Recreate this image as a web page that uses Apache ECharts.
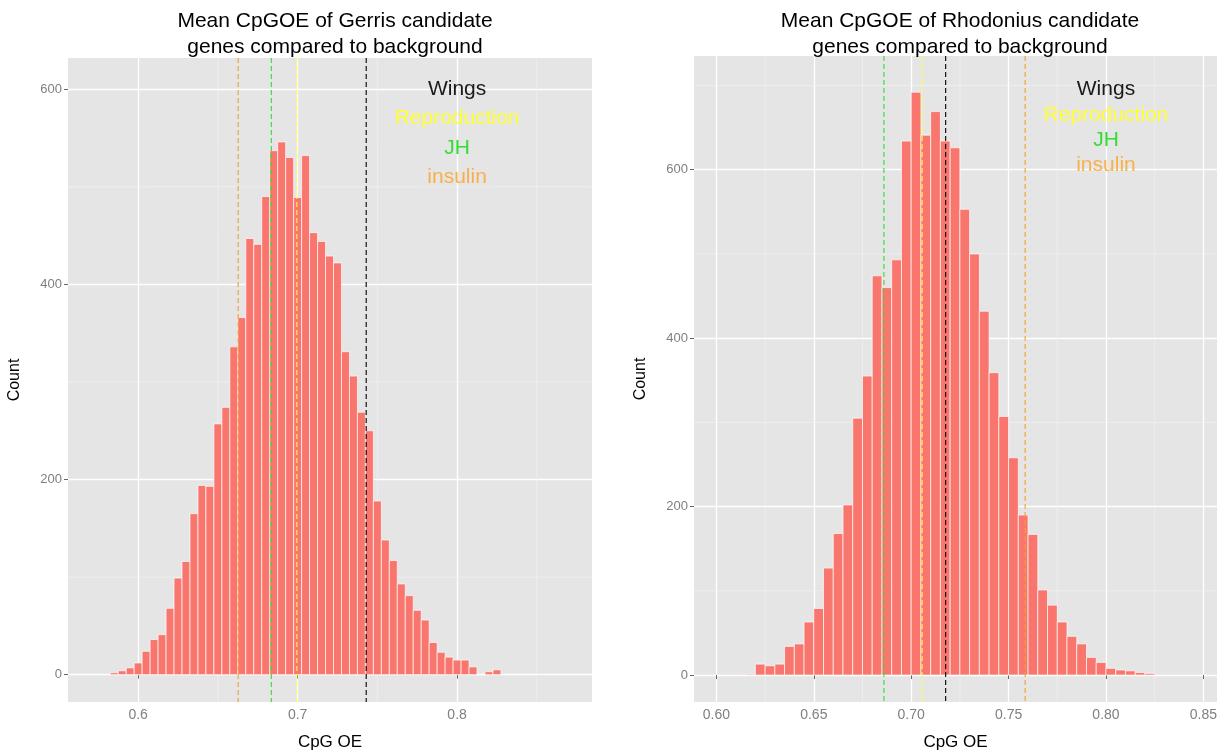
<!DOCTYPE html>
<html><head><meta charset="utf-8">
<script src="https://cdn.jsdelivr.net/npm/echarts@6/dist/echarts.min.js"></script>
<style>html,body{margin:0;padding:0;background:#fff}#c{width:1228px;height:756px}</style>
</head><body><div id="c"></div>
<script>
// ---------------- data ----------------
const binWidth = 0.005;

const gerrisBins = [0.585,0.59,0.595,0.60,0.605,0.61,0.615,0.62,0.625,0.63,0.635,0.64,0.645,0.65,0.655,0.66,0.665,0.67,0.675,0.68,0.685,0.69,0.695,0.70,0.705,0.71,0.715,0.72,0.725,0.73,0.735,0.74,0.745,0.75,0.755,0.76,0.765,0.77,0.775,0.78,0.785,0.79,0.795,0.80,0.805,0.81,0.815,0.82,0.825];
const gerrisCounts = [2,4,7,12,24,36,41,68,99,116,165,194,193,257,274,336,366,447,441,490,537,546,530,489,532,453,444,429,422,331,306,269,250,178,138,117,93,81,66,56,33,23,18,15,15,8,0,3,5];

const rhodBins = [0.6175,0.6225,0.6275,0.6325,0.6375,0.6425,0.6475,0.6525,0.6575,0.6625,0.6675,0.6725,0.6775,0.6825,0.6875,0.6925,0.6975,0.7025,0.7075,0.7125,0.7175,0.7225,0.7275,0.7325,0.7375,0.7425,0.7475,0.7525,0.7575,0.7625,0.7675,0.7725,0.7775,0.7825,0.7875,0.7925,0.7975,0.8025,0.8075,0.8125,0.8175,0.8225];
const rhodCounts = [1,13,11,13,34,37,63,79,127,168,202,305,355,474,460,493,634,692,641,669,634,626,553,500,432,359,307,258,190,167,101,83,63,46,37,21,15,8,6,5,3,2];

const groupNames = ['Wings','Reproduction','JH','insulin'];
const groupColors = ['#1a1a1a','#FFFF33','#33DD33','#F7B04A'];
const lineColors = ['#000000','#FFFF44','#33DD33','#F0A030'];
const gerrisMeans = [0.743,0.6995,0.6835,0.6627];
const rhodMeans = [0.7177,0.7056,0.686,0.7585];
const gerrisLabelX = [0.8,0.8,0.8,0.8];
const gerrisLabelY = [600,570,540,510];
const rhodLabelX = [0.8,0.8,0.8,0.8];
const rhodLabelY = [695,665,635,605];

const gerrisXTicks = [0.6,0.7,0.8];
const gerrisXTickLabels = ['0.6','0.7','0.8'];
const gerrisXMinor = [0.65,0.75,0.85];
const rhodXTicks = [0.60,0.65,0.70,0.75,0.80,0.85];
const rhodXTickLabels = ['0.60','0.65','0.70','0.75','0.80','0.85'];
const rhodXMinor = [0.625,0.675,0.725,0.775,0.825];
const yTicks = [0,200,400,600];
const yTickLabels = ['0','200','400','600'];
const yMinor = [100,300,500,700];

const titles = ['Mean CpGOE of Gerris candidate\ngenes compared to background',
                'Mean CpGOE of Rhodonius candidate\ngenes compared to background'];

// ---------------- chart ----------------
const chart = echarts.init(document.getElementById('c'), null, {renderer:'canvas'});

function histItem(params, api) {
  const c = api.value(0), n = api.value(1);
  const p0 = api.coord([c - binWidth/2, 0]);
  const p1 = api.coord([c + binWidth/2, n]);
  return {type:'rect', shape:{x:p0[0], y:p1[1], width:p1[0]-p0[0], height:p0[1]-p1[1]},
          style:{fill:'#F8766D', stroke:'rgba(255,255,255,0.85)', lineWidth:0.8}};
}
function vlineItem(color, dashed, width) {
  return function(params, api) {
    const cs = params.coordSys;
    const p = api.coord([api.value(0), 0]);
    return {type:'line', shape:{x1:p[0], y1:cs.y, x2:p[0], y2:cs.y+cs.height},
      style:{stroke: color, lineWidth: width, lineDash: dashed ? [5,3] : null}};
  };
}
function hlineItem(params, api) {
  const cs = params.coordSys;
  const p = api.coord([0, api.value(0)]);
  return {type:'line', shape:{x1:cs.x, y1:p[1], x2:cs.x+cs.width, y2:p[1]},
    style:{stroke:'#F2F2F2', lineWidth:0.7}};
}
function vminorItem(params, api) {
  const cs = params.coordSys;
  const p = api.coord([api.value(0), 0]);
  return {type:'line', shape:{x1:p[0], y1:cs.y, x2:p[0], y2:cs.y+cs.height},
    style:{stroke:'#F2F2F2', lineWidth:0.7}};
}

function xAxisCfg(idx, min, max, ticks, labels) {
  return {gridIndex: idx, type:'value', min:min, max:max,
    axisLine:{show:false},
    axisTick:{show:true, length:4, customValues:ticks, lineStyle:{color:'#666', width:1}},
    axisLabel:{customValues:ticks, color:'#7F7F7F', fontSize:14, margin:6,
      formatter: v => { const i = ticks.findIndex(t => Math.abs(t-v) < 1e-9); return i >= 0 ? labels[i] : ''; }},
    splitLine:{show:true, lineStyle:{color:'#FFFFFF', width:1.3}},
    name:'CpG OE', nameLocation:'middle', nameGap:32,
    nameTextStyle:{color:'#000', fontSize:17, fontFamily:'Liberation Sans'}};
}
function yAxisCfg(idx, min, max) {
  return {gridIndex: idx, type:'value', min:min, max:max,
    axisLine:{show:false},
    axisTick:{show:true, length:4, customValues:yTicks, lineStyle:{color:'#666', width:1}},
    axisLabel:{customValues:yTicks, color:'#7F7F7F', fontSize:13, margin:6,
      formatter: v => { const i = yTicks.indexOf(v); return i >= 0 ? yTickLabels[i] : ''; }},
    splitLine:{show:true, lineStyle:{color:'#FFFFFF', width:1.3}},
    name:'Count', nameLocation:'middle', nameGap:45, nameRotate:90,
    nameTextStyle:{color:'#000', fontSize:16, fontFamily:'Liberation Sans'}};
}

function panelSeries(idx, bins, counts, xMinor, means, lx, ly) {
  const s = [];
  s.push({type:'custom', xAxisIndex:idx, yAxisIndex:idx, renderItem:vminorItem, data:xMinor.map(v=>[v]), silent:true, z:1});
  s.push({type:'custom', xAxisIndex:idx, yAxisIndex:idx, renderItem:hlineItem, data:yMinor.map(v=>[v]), silent:true, z:1, clip:true});
  s.push({type:'custom', xAxisIndex:idx, yAxisIndex:idx, renderItem:histItem, clip:true,
          data: bins.map((b,i)=>[b, counts[i]]), z:2});
  means.forEach((m,i) => {
    s.push({type:'custom', xAxisIndex:idx, yAxisIndex:idx, renderItem:vlineItem(lineColors[i], true, 1.1),
            data:[[m]], silent:true, z:3});
  });
  s.push({type:'custom', xAxisIndex:idx, yAxisIndex:idx, z:4, silent:true,
    data: groupNames.map((g,i)=>[lx[i], ly[i], i]),
    renderItem: (params, api) => {
      const i = api.value(2);
      const p = api.coord([api.value(0), api.value(1)]);
      return {type:'text', x:p[0], y:p[1], style:{text:groupNames[i], fill:groupColors[i],
        font:'21px "Liberation Sans", Arial, sans-serif', align:'center', verticalAlign:'middle'}};
    }});
  return s;
}

const option = {
  animation:false,
  backgroundColor:'#FFFFFF',
  title:[
    {text:titles[0], left:330, top:3, textAlign:'center',
     textStyle:{fontSize:21, fontWeight:'normal', color:'#000', lineHeight:26, fontFamily:'Liberation Sans'}},
    {text:titles[1], left:955, top:3, textAlign:'center',
     textStyle:{fontSize:21, fontWeight:'normal', color:'#000', lineHeight:26, fontFamily:'Liberation Sans'}}
  ],
  grid:[
    {left:68, right:636, top:58, bottom:52, show:true, backgroundColor:'#E5E5E5', borderWidth:0},
    {left:694, right:11, top:56, bottom:52, show:true, backgroundColor:'#E5E5E5', borderWidth:0}
  ],
  xAxis:[
    xAxisCfg(0, 0.556, 0.8846, gerrisXTicks, gerrisXTickLabels),
    xAxisCfg(1, 0.5885, 0.857, rhodXTicks, rhodXTickLabels)
  ],
  yAxis:[
    yAxisCfg(0, -28, 632),
    yAxisCfg(1, -32, 735)
  ],
  series:[].concat(
    panelSeries(0, gerrisBins, gerrisCounts, gerrisXMinor, gerrisMeans, gerrisLabelX, gerrisLabelY),
    panelSeries(1, rhodBins, rhodCounts, rhodXMinor, rhodMeans, rhodLabelX, rhodLabelY)
  )
};
chart.setOption(option);
</script>
</body></html>
